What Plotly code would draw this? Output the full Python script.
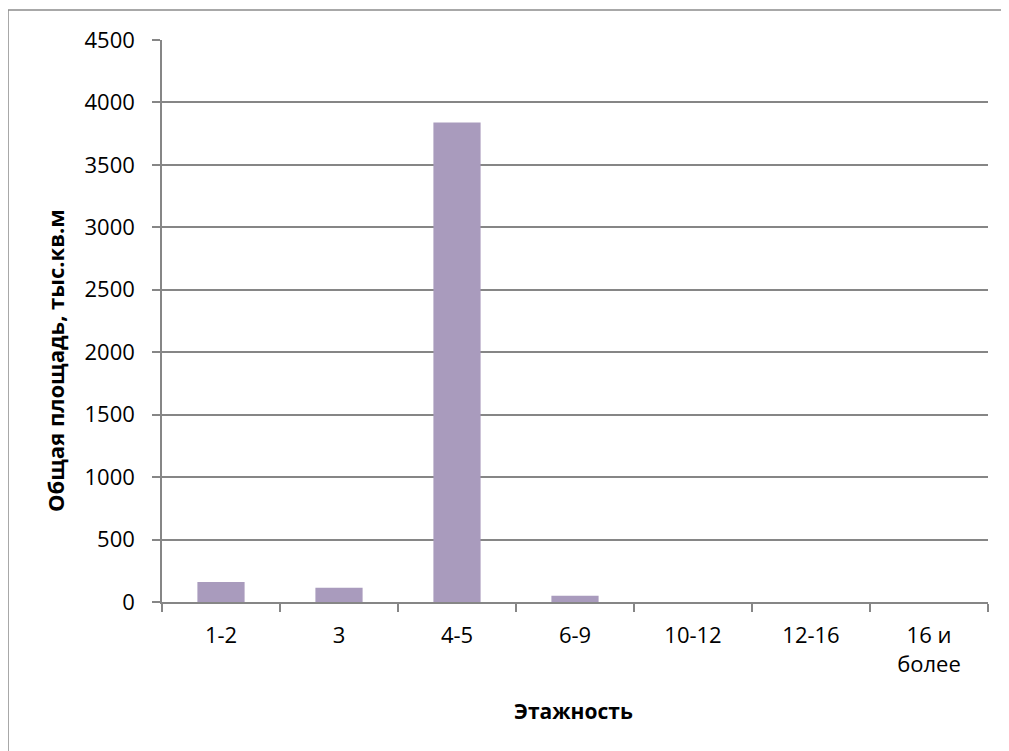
import plotly.graph_objects as go

categories = ["1-2", "3", "4-5", "6-9", "10-12", "12-16", "16 и<br>более"]
values = [160, 115, 3840, 51, 0, 0, 0]
y_ticks = [0, 500, 1000, 1500, 2000, 2500, 3000, 3500, 4000, 4500]

# the page body adds an 8px offset, so the figure is sized and placed to compensate
OFF = 8
W, H = 1009 - OFF, 751 - OFF
L, R, T, B = 162 - OFF, 21, 40 - OFF, 149
pw, ph = W - L - R, H - T - B

def px(x):
    return (x - OFF - L) / pw

def py(y):
    return (T + ph - (y - OFF)) / ph

FONT = "Open Sans"
GRID = "#868686"

fig = go.Figure(go.Bar(x=categories, y=values, marker=dict(color="#A99BBD", line=dict(width=0)), width=0.4))

fig.update_layout(
    width=W, height=H,
    margin=dict(l=L, r=R, t=T, b=B, pad=0),
    paper_bgcolor="white", plot_bgcolor="white",
    showlegend=False,
    font=dict(family=FONT, size=22, color="black"),
    bargap=0.6,
)
fig.update_xaxes(
    type="category", showgrid=False, showline=True, linecolor=GRID, linewidth=1.5,
    ticks="outside", tickson="boundaries", ticklen=8, tickcolor=GRID, tickwidth=1.5,
    tickfont=dict(family=FONT, size=22), ticklabelstandoff=13,
)
fig.update_yaxes(
    range=[0, 4500], tickvals=y_ticks, showgrid=True, gridcolor=GRID, gridwidth=1.5,
    showline=True, linecolor=GRID, linewidth=1.5, zeroline=False,
    ticks="outside", ticklen=8, tickcolor=GRID, tickwidth=1.5,
    tickfont=dict(family=FONT, size=22), ticklabelstandoff=13,
)

fig.add_annotation(
    text="<b>Общая площадь, тыс.кв.м</b>", textangle=-90,
    x=px(55), y=py(361), xref="paper", yref="paper", showarrow=False,
    xanchor="center", yanchor="middle", font=dict(family=FONT, size=22),
)
fig.add_annotation(
    text="<b>Этажность</b>",
    x=px(573.5), y=py(711), xref="paper", yref="paper", showarrow=False,
    xanchor="center", yanchor="middle", font=dict(family=FONT, size=21),
)
fig.add_shape(
    type="rect", xref="paper", yref="paper",
    x0=px(8), x1=px(1030), y0=py(780), y1=py(10),
    line=dict(color="#8c8c8c", width=1.5), fillcolor="rgba(0,0,0,0)", layer="below",
)

fig.write_html("out.html")
